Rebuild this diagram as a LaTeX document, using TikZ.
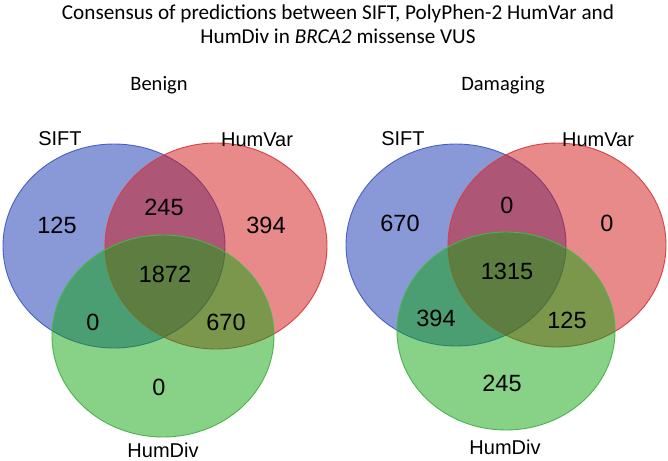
\documentclass[tikz,border=0pt]{standalone}
\usepackage{fontspec}
\setmainfont{Carlito}
\newfontfamily\arialfont{Liberation Sans}
\usetikzlibrary{positioning}
\definecolor{vennblue}{RGB}{20,50,175}
\definecolor{vennred}{RGB}{209,21,21}
\definecolor{venngreen}{RGB}{15,165,15}
\definecolor{edgeblue}{RGB}{70,95,200}
\definecolor{edgered}{RGB}{215,65,65}
\definecolor{edgegreen}{RGB}{75,180,75}
\tikzset{
  setblue/.style={fill=vennblue, fill opacity=0.5, draw=edgeblue, line width=0.9pt},
  setred/.style={fill=vennred, fill opacity=0.5, draw=edgered, line width=0.9pt},
  setgreen/.style={fill=venngreen, fill opacity=0.5, draw=edgegreen, line width=0.9pt},
  count/.style={font=\arialfont\fontsize{23.5}{26}\selectfont, inner sep=0pt},
  setlabel/.style={font=\arialfont\fontsize{20}{22}\selectfont, inner sep=0pt},
  panel/.style={font=\fontsize{20.5}{24}\selectfont, inner sep=0pt},
  heading/.style={font=\fontsize{21.2}{24.5}\selectfont, align=center, inner sep=0pt}
}
\begin{document}
\begin{tikzpicture}[x=1pt, y=-1pt]
  \useasboundingbox (0,0) rectangle (668,460);
  % Title
  \node[heading] (title) at (338,24) {Consensus of predictions between SIFT, PolyPhen-2 HumVar and\\HumDiv in \textit{BRCA2} missense VUS};

  % Benign
  \node[panel] (benign) at (159,85) {Benign};
  \filldraw[setblue] (114,246) ellipse [x radius=111pt, y radius=102pt];
  \filldraw[setred] (216,246) ellipse [x radius=111pt, y radius=103pt];
  \filldraw[setgreen] (163,336) ellipse [x radius=111pt, y radius=101pt];
  \node[setlabel] (ben-sift) at (60,139) {SIFT};
  \node[setlabel] (ben-var) at (257,140) {HumVar};
  \node[setlabel] (ben-div) at (163,450) {HumDiv};
  \node[count] (ben-s) at (57,225) {125};
  \node[count] (ben-sv) at (164,207) {245};
  \node[count] (ben-v) at (266,225) {394};
  \node[count] (ben-svd) at (165,274) {1872};
  \node[count] (ben-sd) at (93,322) {0};
  \node[count] (ben-vd) at (226,322) {670};
  \node[count] (ben-d) at (159,387) {0};

  % Damaging
  \node[panel] (damaging) at (503,85) {Damaging};
  \filldraw[setblue] (456,245) ellipse [x radius=110pt, y radius=101pt];
  \filldraw[setred] (557,245) ellipse [x radius=109pt, y radius=102pt];
  \filldraw[setgreen] (506,331) ellipse [x radius=109pt, y radius=99pt];
  \node[setlabel] (dam-sift) at (403,139) {SIFT};
  \node[setlabel] (dam-var) at (598,140) {HumVar};
  \node[setlabel] (dam-div) at (505,447) {HumDiv};
  \node[count] (dam-s) at (400,223) {670};
  \node[count] (dam-sv) at (507,205) {0};
  \node[count] (dam-v) at (607,223) {0};
  \node[count] (dam-svd) at (507,271) {1315};
  \node[count] (dam-sd) at (436,318) {394};
  \node[count] (dam-vd) at (567,320) {125};
  \node[count] (dam-d) at (502,383) {245};
\end{tikzpicture}
\end{document}
